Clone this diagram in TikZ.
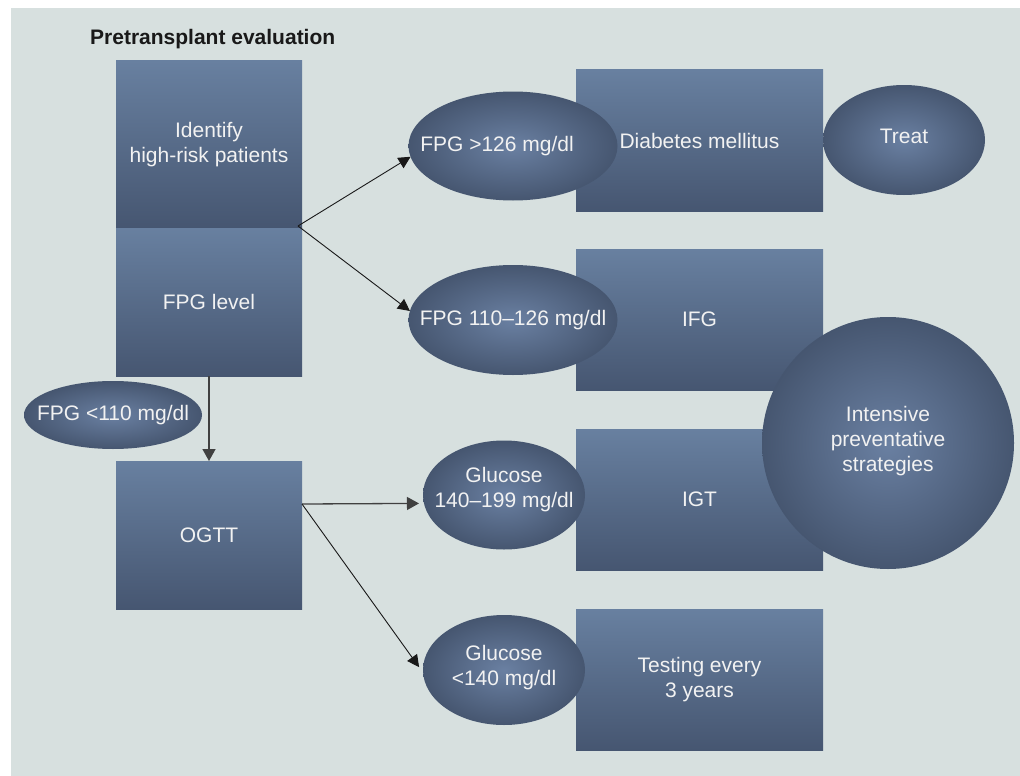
\documentclass[tikz,border=0pt]{standalone}
\usepackage{fontspec}
\setmainfont{Liberation Sans}
\usetikzlibrary{arrows.meta,shapes.geometric}
\definecolor{bg}{HTML}{D7E0DF}
\definecolor{btop}{HTML}{6880A0}
\definecolor{bbot}{HTML}{465671}
\definecolor{ein}{HTML}{6A80A2}
\definecolor{eout}{HTML}{465670}
\definecolor{txt}{HTML}{F2F2F2}
\begin{document}
\begin{tikzpicture}[x=1pt,y=-1pt,
  box/.style={rectangle,inner sep=0pt,outer sep=0pt,top color=btop,bottom color=bbot,
    draw=none,text=txt,font=\fontsize{21}{25}\selectfont,align=center},
  oval/.style={ellipse,inner sep=0pt,outer sep=0pt,inner color=ein,outer color=eout,draw=none},
  lbl/.style={text=txt,font=\fontsize{21}{25}\selectfont,align=center,inner sep=0pt},
  arr/.style={draw=black!90,line width=0.9pt,-{Triangle[length=12pt,width=12pt]}},
  arrthick/.style={draw=black!75,line width=1.6pt,-{Triangle[length=12pt,width=13pt]}},
]
\useasboundingbox (0,0) rectangle (1020,776);
\fill[white] (0,0) rectangle (1020,776);
\fill[bg] (11,8) rectangle (1020,776);

\node[anchor=base west,font=\fontsize{21}{25}\selectfont\bfseries,text=black!90,inner sep=0pt] (title) at (90,45) {Pretransplant evaluation};

% boxes
\node[box,minimum width=186pt,minimum height=167pt] (idb) at (209,144.5) {Identify\\high-risk patients};
\node[box,minimum width=186pt,minimum height=148pt] (fpg) at (209,302) {FPG level};
\node[box,minimum width=186pt,minimum height=148pt] (ogtt) at (209,535) {OGTT};
\node[box,minimum width=247pt,minimum height=141pt] (dm) at (699.5,140.5) {Diabetes mellitus};
\node[box,minimum width=247pt,minimum height=141pt] (ifg) at (699.5,319.5) {IFG};
\node[box,minimum width=247pt,minimum height=141pt] (igt) at (699.5,499.5) {IGT};
\node[box,minimum width=247pt,minimum height=141pt] (test) at (699.5,679.5) {Testing every\\3 years};

% ovals
\node[oval,minimum width=178pt,minimum height=68pt,label={[lbl]center:FPG <110 mg/dl}] (e110) at (113,415) {};
\node[oval,minimum width=209pt,minimum height=109pt,label={[lbl,xshift=-16pt]center:FPG >126 mg/dl}] (e126) at (513,146) {};
\node[oval,minimum width=209pt,minimum height=110pt,label={[lbl]center:FPG 110–126 mg/dl}] (emid) at (513,320) {};
\node[oval,minimum width=162pt,minimum height=110pt,label={[lbl,yshift=4pt]center:Treat}] (treat) at (904,140) {};
\node[oval,minimum width=162pt,minimum height=109pt,label={[lbl,yshift=5pt]center:{Glucose\\140–199 mg/dl}}] (g1) at (504,495) {};
\node[oval,minimum width=162pt,minimum height=110pt,label={[lbl,yshift=2pt]center:{Glucose\\<140 mg/dl}}] (g2) at (504,670) {};
\node[oval,minimum width=252pt,minimum height=252pt,label={[lbl,yshift=2pt]center:{Intensive\\preventative\\strategies}}] (ips) at (888,443) {};

% connectors
\coordinate (s1) at (298,226);
\coordinate (s2) at (302,504);
\draw[arr] (s1) -- (e126.186);
\draw[arr] (s1) -- (emid.175);
\draw[arrthick] (fpg.south) -- (ogtt.north);
\draw[arrthick,line width=1.3pt] (s2) -- ([xshift=-5pt]g1.186);
\draw[arr] (s2) -- ([xshift=-4pt]g2.178);
\end{tikzpicture}
\end{document}
